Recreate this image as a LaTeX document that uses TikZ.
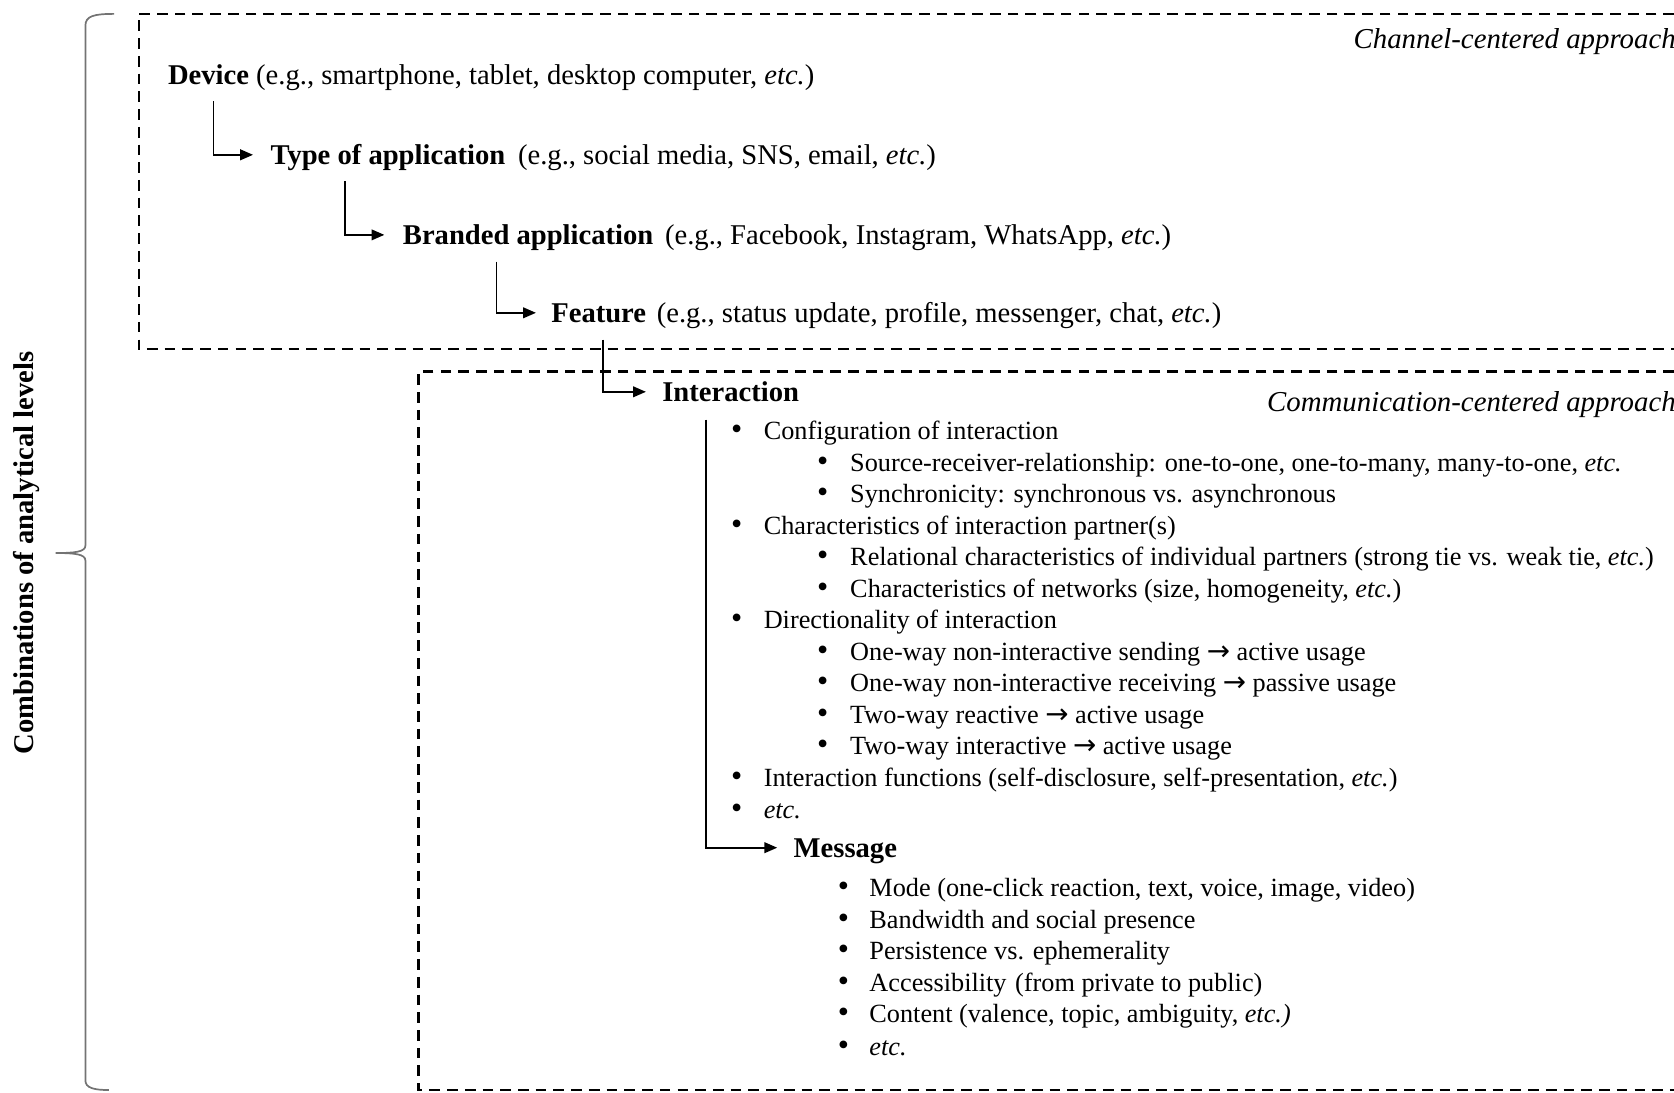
\documentclass[tikz,border=0pt]{standalone}
\usepackage{fontspec}
\setmainfont{Liberation Serif}
\newfontfamily\arrowfont{DejaVu Sans}
\newcommand{\myarr}{{\arrowfont\fontsize{13}{14}\selectfont →}}
\usetikzlibrary{arrows.meta,calc}
\begin{document}
\begin{tikzpicture}[x=0.5pt,y=-0.5pt,
  dashbox/.style={draw=black,line width=1pt,dash pattern=on 5pt off 3.3pt},
  arr/.style={line width=0.8pt,-{Triangle[length=6pt,width=5pt]}},
  head/.style={anchor=base west,inner sep=0pt,font=\fontsize{13.4}{16}\selectfont},
  item/.style={anchor=base west,inner sep=0pt,font=\fontsize{12.3}{14}\selectfont},
  bul/.style={anchor=base,inner sep=0pt,font=\fontsize{15}{16}\selectfont},
  lab/.style={anchor=base east,inner sep=0pt,font=\fontsize{13.5}{16}\selectfont\itshape},
  bracestyle/.style={draw=black!55,line width=0.8pt}
]
\useasboundingbox (0,0) rectangle (1568,1023);

% dashed frames
\draw[dashbox] (1568,13) -- (130,13) -- (130,327) -- (1568,327);
\draw[dashbox] (1568,348) -- (392,348) -- (392,1021) -- (1568,1021);

% brace
\draw[bracestyle] (107,13) .. controls (88,13) and (80,15) .. (80,24) -- (80,511)
  .. controls (80,517) and (70,518) .. (52,518)
  .. controls (70,518) and (80,519) .. (80,525) -- (80,1012)
  .. controls (80,1019) and (88,1021) .. (102,1021);
\node[rotate=90,inner sep=0pt,font=\bfseries\fontsize{13.4}{16}\selectfont] (combo) at (25,518) {Combinations of analytical levels};

% approach labels
\node[lab] (chan) at (1570,45) {Channel-centered approach};
\node[lab] (comm) at (1570,385) {Communication-centered approach};

% levels
\node[head] (dev) at (157,79) {\textbf{Device} (e.g., smartphone, tablet, desktop computer, \textit{etc.})};
\node[head] (type) at (253,154) {\textbf{Type of application}\hspace{6pt}(e.g., social media, SNS, email, \textit{etc.})};
\node[head] (brand) at (377,229) {\textbf{Branded application}\hspace{5.5pt}(e.g., Facebook, Instagram, WhatsApp, \textit{etc.})};
\node[head] (feat) at (516,302) {\textbf{Feature}\hspace{5pt}(e.g., status update, profile, messenger, chat, \textit{etc.})};
\node[head] (inter) at (620,376) {\textbf{Interaction}};
\node[head] (msg) at (743,803) {\textbf{Message}};

% connectors
\coordinate (s1) at (200,95);
\coordinate (s2) at (323,170);
\coordinate (s3) at (465,245);
\coordinate (s4) at (565,318);
\coordinate (s5) at (661,393);
\draw[arr] (s1) |- ([xshift=-8pt,yshift=4.5pt]type.base west);
\draw[arr] (s2) |- ([xshift=-8.5pt,yshift=4.5pt]brand.base west);
\draw[arr] (s3) |- ([xshift=-7pt,yshift=4.5pt]feat.base west);
\draw[arr] (s4) |- ([xshift=-7.5pt,yshift=4.5pt]inter.base west);
\draw[arr] (s5) |- ([xshift=-7.5pt,yshift=4.5pt]msg.base west);

% interaction list
\foreach \n/\bx/\tx/\yy/\txt in {
  1/690/715/412/{Configuration of interaction},
  2/770.6/796/442/{Source-receiver-relationship: one-to-one, one-to-many, many-to-one, \textit{etc.}},
  3/770.6/796/471/{Synchronicity: synchronous vs. asynchronous},
  4/690/715/501/{Characteristics of interaction partner(s)},
  5/770.6/796/530/{Relational characteristics of individual partners (strong tie vs. weak tie, \textit{etc.})},
  6/770.6/796/560/{Characteristics of networks (size, homogeneity, \textit{etc.})},
  7/690/715/589/{Directionality of interaction},
  8/770.6/796/619/{One-way non-interactive sending \myarr{} active usage},
  9/770.6/796/648/{One-way non-interactive receiving \myarr{} passive usage},
  10/770.6/796/678/{Two-way reactive \myarr{} active usage},
  11/770.6/796/707/{Two-way interactive \myarr{} active usage},
  12/690/715/737/{Interaction functions (self-disclosure, self-presentation, \textit{etc.})},
  13/690/715/767/{\textit{etc.}}}{
  \node[bul] (ib\n) at (\bx,\yy) {•};
  \node[item] (it\n) at (\tx,\yy) {\txt};
}

% message list
\foreach \n/\yy/\txt in {
  1/840/{Mode (one-click reaction, text, voice, image, video)},
  2/870/{Bandwidth and social presence},
  3/899/{Persistence vs. ephemerality},
  4/929/{Accessibility\hspace{4pt}(from private to public)},
  5/958/{Content (valence, topic, ambiguity, \textit{etc.)}},
  6/989/{\textit{etc.}}}{
  \node[bul] (mb\n) at (790,\yy) {•};
  \node[item] (mt\n) at (814,\yy) {\txt};
}
\end{tikzpicture}
\end{document}
